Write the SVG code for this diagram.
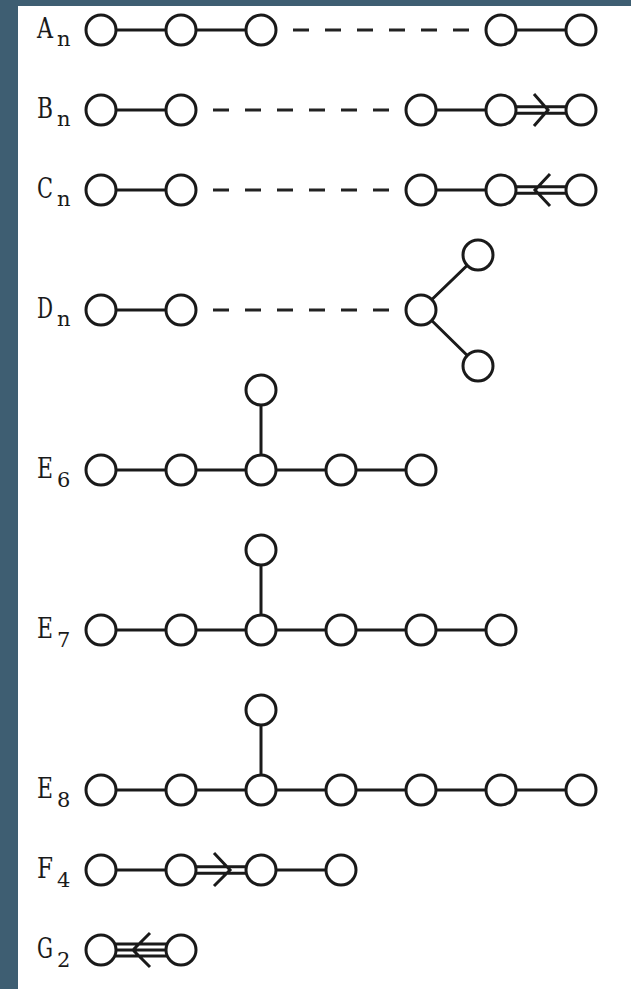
<svg xmlns="http://www.w3.org/2000/svg" width="631" height="989" viewBox="0 0 631 989">
<style>
.e{stroke:#1a1a1a;stroke-width:3;fill:none}
.d{stroke:#222;stroke-width:3.2;fill:none;stroke-dasharray:16 16}
.n circle{fill:#fff;stroke:#1a1a1a;stroke-width:3}
.l{font-family:"DejaVu Serif",serif;font-size:27px;fill:#1a1a1a}
.s{font-family:"DejaVu Serif",serif;font-size:21px;fill:#1a1a1a}
</style>
<rect x="0" y="0" width="631" height="989" fill="#ffffff"/>
<rect x="0" y="0" width="631" height="6" fill="#3e5e72"/>
<rect x="0" y="0" width="18" height="989" fill="#3e5e72"/>
<g id="connectors">
<path class="e" d="M101 30H261M501 30H581"/>
<path class="d" d="M293 30H470"/>
<path class="e" d="M101 110H181M421 110H501M501 106.7H581M501 113.3H581M534 94L548 110L534 126"/>
<path class="d" d="M213 110H390"/>
<path class="e" d="M101 190H181M421 190H501M501 186.7H581M501 193.3H581M550 174L535 190L550 206"/>
<path class="d" d="M213 190H390"/>
<path class="e" d="M101 310H181M421 310L478 255M421 310L478 366"/>
<path class="d" d="M213 310H390"/>
<path class="e" d="M101 470H421M261 390V470"/>
<path class="e" d="M101 630H501M261 550V630"/>
<path class="e" d="M101 790H581M261 710V790"/>
<path class="e" d="M101 870H181M261 870H341M181 866.7H261M181 873.3H261M214 853L230 870L214 886"/>
<path class="e" d="M101 944H181M101 950H181M101 956H181M150 933L133 950L150 967"/>
</g>
<g id="labels">
<text class="l" x="37" y="38" textLength="16" lengthAdjust="spacingAndGlyphs">A</text><text class="s" x="57" y="46">n</text>
<text class="l" x="37" y="118" textLength="16" lengthAdjust="spacingAndGlyphs">B</text><text class="s" x="57" y="126">n</text>
<text class="l" x="37" y="198" textLength="16" lengthAdjust="spacingAndGlyphs">C</text><text class="s" x="57" y="206">n</text>
<text class="l" x="37" y="318" textLength="16" lengthAdjust="spacingAndGlyphs">D</text><text class="s" x="57" y="326">n</text>
<text class="l" x="37" y="478" textLength="16" lengthAdjust="spacingAndGlyphs">E</text><text class="s" x="57" y="487">6</text>
<text class="l" x="37" y="638" textLength="16" lengthAdjust="spacingAndGlyphs">E</text><text class="s" x="57" y="647">7</text>
<text class="l" x="37" y="798" textLength="16" lengthAdjust="spacingAndGlyphs">E</text><text class="s" x="57" y="807">8</text>
<text class="l" x="37" y="878" textLength="16" lengthAdjust="spacingAndGlyphs">F</text><text class="s" x="57" y="887">4</text>
<text class="l" x="37" y="958" textLength="16" lengthAdjust="spacingAndGlyphs">G</text><text class="s" x="57" y="967">2</text>
</g>
<g id="A" class="n"><circle cx="101" cy="30" r="15"/><circle cx="181" cy="30" r="15"/><circle cx="261" cy="30" r="15"/><circle cx="501" cy="30" r="15"/><circle cx="581" cy="30" r="15"/></g>
<g id="B" class="n"><circle cx="101" cy="110" r="15"/><circle cx="181" cy="110" r="15"/><circle cx="421" cy="110" r="15"/><circle cx="501" cy="110" r="15"/><circle cx="581" cy="110" r="15"/></g>
<g id="C" class="n"><circle cx="101" cy="190" r="15"/><circle cx="181" cy="190" r="15"/><circle cx="421" cy="190" r="15"/><circle cx="501" cy="190" r="15"/><circle cx="581" cy="190" r="15"/></g>
<g id="D" class="n"><circle cx="101" cy="310" r="15"/><circle cx="181" cy="310" r="15"/><circle cx="421" cy="310" r="15"/><circle cx="478" cy="255" r="15"/><circle cx="478" cy="366" r="15"/></g>
<g id="E6" class="n"><circle cx="101" cy="470" r="15"/><circle cx="181" cy="470" r="15"/><circle cx="261" cy="470" r="15"/><circle cx="341" cy="470" r="15"/><circle cx="421" cy="470" r="15"/><circle cx="261" cy="390" r="15"/></g>
<g id="E7" class="n"><circle cx="101" cy="630" r="15"/><circle cx="181" cy="630" r="15"/><circle cx="261" cy="630" r="15"/><circle cx="341" cy="630" r="15"/><circle cx="421" cy="630" r="15"/><circle cx="501" cy="630" r="15"/><circle cx="261" cy="550" r="15"/></g>
<g id="E8" class="n"><circle cx="101" cy="790" r="15"/><circle cx="181" cy="790" r="15"/><circle cx="261" cy="790" r="15"/><circle cx="341" cy="790" r="15"/><circle cx="421" cy="790" r="15"/><circle cx="501" cy="790" r="15"/><circle cx="581" cy="790" r="15"/><circle cx="261" cy="710" r="15"/></g>
<g id="F4" class="n"><circle cx="101" cy="870" r="15"/><circle cx="181" cy="870" r="15"/><circle cx="261" cy="870" r="15"/><circle cx="341" cy="870" r="15"/></g>
<g id="G2" class="n"><circle cx="101" cy="950" r="15"/><circle cx="181" cy="950" r="15"/></g>
</svg>
